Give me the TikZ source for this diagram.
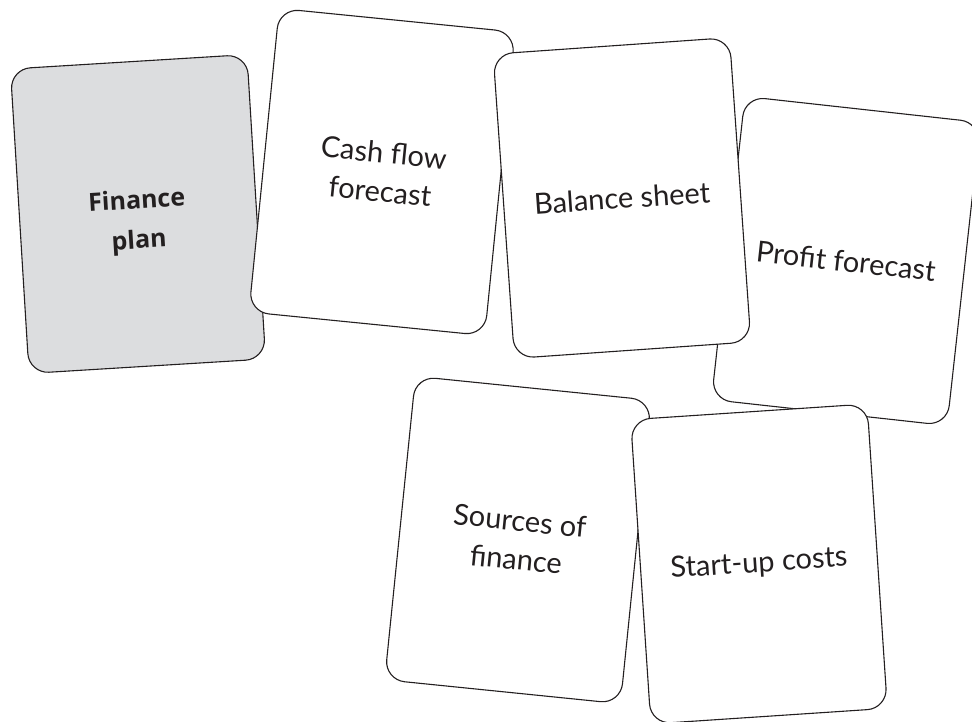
\documentclass[tikz,border=0pt]{standalone}
\usepackage{fontspec}
\setmainfont{Lato}
\newfontfamily\boldfont{Open Sans}
\definecolor{cardgrey}{RGB}{220,221,223}
\definecolor{edge}{RGB}{35,31,32}

\begin{document}
\begin{tikzpicture}[x=1pt, y=-1pt,
    card/.style = {shape=rectangle, draw=edge, line width=1.1pt,
      rounded corners=20pt, fill=white, align=center, text=edge,
      minimum width=237pt, minimum height=305pt, inner sep=0pt,
      font=\fontsize{29}{39}\selectfont},
    leadcard/.style = {card, fill=cardgrey},
    leadtext/.style = {align=center, text=edge, inner sep=0pt,
      font=\boldfont\bfseries\fontsize{25}{40}\selectfont}]
    \useasboundingbox (0,0) rectangle (972,722);
    \node[leadcard, rotate=3.5] (plan) at (138,214) {};
    \node[leadtext, rotate=3.5] (plantext) at ([shift={(0,8)}]plan.center) {Finance\\plan};
    \node[card, rotate=-5.7] (cashflow) at (382,172) {Cash flow\\forecast};
    \node[card, rotate=-6.3] (profit) at (846,261) {Profit forecast};
    \node[card, rotate=4] (balance) at (622,198) {Balance sheet};
    \node[card, rotate=-5.8] (sources) at (518,540) {Sources of\\finance};
    \node[card, rotate=3.8] (startup) at (759,564) {Start-up costs};
\end{tikzpicture}
\end{document}
